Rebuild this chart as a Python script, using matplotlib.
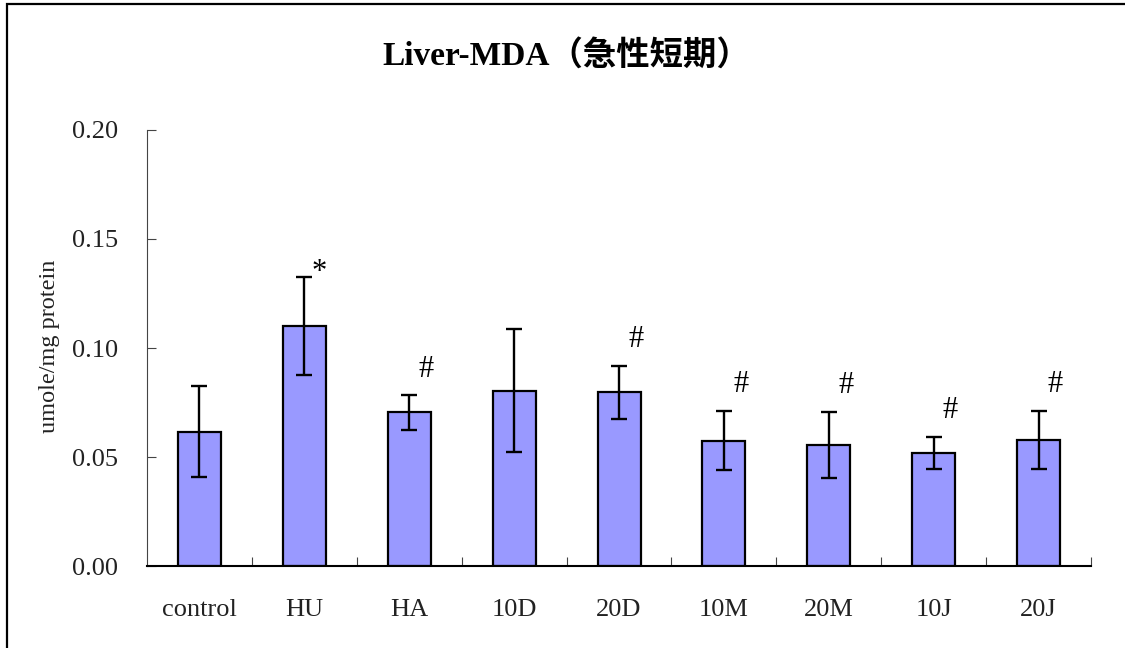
import matplotlib
matplotlib.use("Agg")
import matplotlib.pyplot as plt
from matplotlib.patches import Rectangle
import numpy as np

# MDA in liver, acute short-term groups
groups = ["control", "HU", "HA", "10D", "20D", "10M", "20M", "10J", "20J"]
mda_mean = [0.0616, 0.1100, 0.0705, 0.0804, 0.0797, 0.0575, 0.0556, 0.0518, 0.0578]
mda_err = [0.0208, 0.0225, 0.0079, 0.0283, 0.0121, 0.0136, 0.0152, 0.0075, 0.0135]
marks = ["", "*", "#", "", "#", "#", "#", "#", "#"]

serif = ["Liberation Serif", "Noto Sans CJK TC", "DejaVu Serif"]
plt.rcParams["font.family"] = serif

fig = plt.figure(figsize=(11.25, 6.48), dpi=100)
ax = fig.add_axes([0.1307, 0.1265, 0.9698 - 0.1307, 0.7994 - 0.1265])

x = np.arange(len(groups))
ax.bar(x, mda_mean, width=0.41, color="#9999FF", edgecolor="black", linewidth=1.6, zorder=2)
ax.errorbar(x, mda_mean, yerr=mda_err, fmt="none", ecolor="black",
            elinewidth=1.7, capsize=5.5, capthick=1.7, zorder=3)

# significance marks above the error bars
for i, m in enumerate(marks):
    if not m:
        continue
    top = mda_mean[i] + mda_err[i]
    if m == "*":
        ax.text(i + 0.14, top - 0.0015, m, ha="center", va="baseline", fontsize=22)
    else:
        ax.text(i + 0.16, top + 0.0085, m, ha="center", va="baseline", fontsize=22)

ax.set_xlim(-0.5, len(groups) - 0.5)
ax.set_ylim(0, 0.20)
ax.set_yticks([0, 0.05, 0.10, 0.15, 0.20])
ax.set_yticklabels(["0.00", "0.05", "0.10", "0.15", "0.20"])
ax.set_xticks(x)
ax.set_xticklabels(groups)
ax.set_xticks(np.arange(len(groups)) + 0.5, minor=True)

ax.tick_params(axis="y", direction="in", length=6.5, width=0.8, pad=21, labelsize=19, color="#444444")
ax.tick_params(axis="x", which="major", length=0, pad=24, labelsize=19)
ax.tick_params(axis="x", which="minor", direction="in", length=6.5, width=0.8, color="#444444")
for lab in ax.get_xticklabels() + ax.get_yticklabels():
    lab.set_color("#222222")

for s in ["top", "right"]:
    ax.spines[s].set_visible(False)
ax.spines["left"].set_linewidth(0.8)
ax.spines["left"].set_color("#444444")
ax.spines["bottom"].set_linewidth(1.5)

ax.set_ylabel("umole/mg protein", fontsize=17.5, color="#222222")
ax.yaxis.set_label_coords(-0.092, 0.505)

fig.text(0.503, 0.914, "Liver-MDA（急性短期）", ha="center", va="center",
         fontsize=24, fontweight="bold", family=serif)

# outer frame (only the top and left edges fall inside the canvas)
fig.patches.append(Rectangle((0.0065, -0.1), 1.2, 1.0935, transform=fig.transFigure,
                             fill=False, edgecolor="black", linewidth=1.6))

fig.savefig("out.png", dpi=100)
